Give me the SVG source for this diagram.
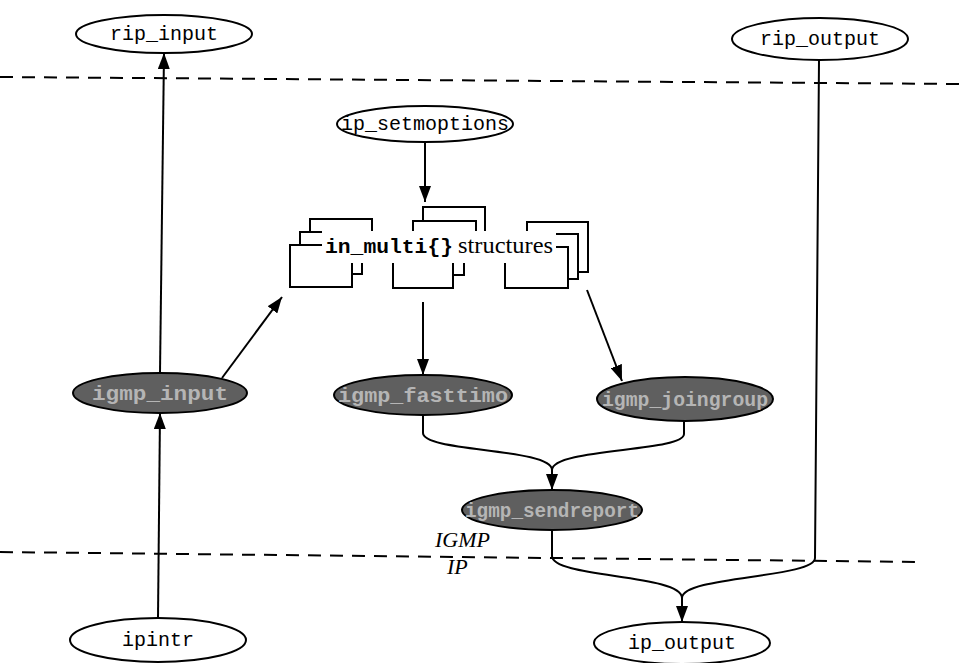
<svg xmlns="http://www.w3.org/2000/svg" width="963" height="663" viewBox="0 0 963 663">
<style>
.light ellipse{fill:#fff;stroke:#000;stroke-width:2}
.dark ellipse{fill:#5f5f5f;stroke:#000;stroke-width:2}
.lt{font-family:"Liberation Mono",monospace;font-size:20px;fill:#000;text-anchor:middle}
.dt{font-family:"Liberation Mono",monospace;font-size:20px;font-weight:bold;fill:#b5b5b5;text-anchor:middle}
.edge{fill:none;stroke:#000;stroke-width:2}
.sep{stroke:#000;stroke-width:2;stroke-dasharray:13 9;fill:none}
.box{fill:#fff;stroke:#000;stroke-width:2}
.lay{font-family:"Liberation Serif",serif;font-style:italic;font-size:22px;fill:#000}
</style>
<defs>
<marker id="arr" markerUnits="userSpaceOnUse" markerWidth="16" markerHeight="12" refX="16" refY="6" orient="auto"><path d="M0,0 L16,6 L0,12 z" fill="#000"/></marker>
</defs>
<rect width="963" height="663" fill="#fff"/>
<g id="layers">
<path class="sep" d="M0,77 L963,84"/>
<path class="sep" d="M0,552 L920,562"/>
<text class="lay" x="435" y="547">IGMP</text>
<text class="lay" x="447" y="574">IP</text>
</g>
<g id="in_multi">
<rect class="box" x="310" y="219" width="62" height="42"/>
<rect class="box" x="300" y="232" width="62" height="42"/>
<rect class="box" x="290" y="245" width="62" height="42"/>
<rect class="box" x="423" y="207" width="62" height="43"/>
<rect class="box" x="413" y="221" width="63" height="41"/>
<rect class="box" x="403" y="232" width="61" height="43"/>
<rect class="box" x="393" y="245" width="60" height="43"/>
<rect class="box" x="527" y="222" width="61" height="50"/>
<rect class="box" x="517" y="234" width="61" height="45"/>
<rect class="box" x="505" y="247" width="63" height="41"/>
<rect x="322" y="231" width="234" height="32" fill="#fff"/>
<text x="325" y="253" textLength="128" lengthAdjust="spacingAndGlyphs" style="font-family:'Liberation Mono',monospace;font-size:21px;font-weight:bold">in_multi{}</text>
<text x="458" y="253" textLength="95" lengthAdjust="spacingAndGlyphs" style="font-family:'Liberation Serif',serif;font-size:23px">structures</text>
</g>
<g id="rip_input" class="light"><ellipse cx="164" cy="34" rx="88" ry="19"/><text class="lt" x="164" y="40">rip_input</text></g>
<g id="rip_output" class="light"><ellipse cx="820" cy="39" rx="88" ry="21"/><text class="lt" x="820" y="45">rip_output</text></g>
<g id="ip_setmoptions" class="light"><ellipse cx="425" cy="124" rx="88" ry="18"/><text class="lt" x="425" y="130">ip_setmoptions</text></g>
<g id="ipintr" class="light"><ellipse cx="158" cy="640" rx="88" ry="22"/><text class="lt" x="158" y="646">ipintr</text></g>
<g id="ip_output" class="light"><ellipse cx="682" cy="643" rx="88" ry="21"/><text class="lt" x="682" y="649">ip_output</text></g>
<g id="igmp_input" class="dark"><ellipse cx="160" cy="393" rx="87" ry="20"/><text class="dt" x="160" y="400" textLength="136" lengthAdjust="spacingAndGlyphs">igmp_input</text></g>
<g id="igmp_fasttimo" class="dark"><ellipse cx="423" cy="395" rx="89" ry="20"/><text class="dt" x="423" y="402" textLength="170" lengthAdjust="spacingAndGlyphs">igmp_fasttimo</text></g>
<g id="igmp_joingroup" class="dark"><ellipse cx="685" cy="399" rx="88" ry="22"/><text class="dt" x="685" y="406" textLength="166" lengthAdjust="spacingAndGlyphs">igmp_joingroup</text></g>
<g id="igmp_sendreport" class="dark"><ellipse cx="552" cy="510" rx="90" ry="20"/><text class="dt" x="552" y="517" textLength="174" lengthAdjust="spacingAndGlyphs">igmp_sendreport</text></g>
<g id="connectors">
<path class="edge" d="M160,373 L164,53" marker-end="url(#arr)"/>
<path class="edge" d="M158,618 L160,413" marker-end="url(#arr)"/>
<path class="edge" d="M222,378 L282,297" marker-end="url(#arr)"/>
<path class="edge" d="M425,142 L425,202" marker-end="url(#arr)"/>
<path class="edge" d="M423,302 L423,375" marker-end="url(#arr)"/>
<path class="edge" d="M587,290 L622,381" marker-end="url(#arr)"/>
<path class="edge" d="M423,415 V433 C423,452 552,448 552,470 V490" marker-end="url(#arr)"/>
<path class="edge" d="M684,421 V434 C684,452 552,448 552,470"/>
<path class="edge" d="M552,530 V556 C552,578 682,574 682,598 V622" marker-end="url(#arr)"/>
<path class="edge" d="M819,60 L815,558 C815,578 682,576 682,598"/>
</g>
</svg>
